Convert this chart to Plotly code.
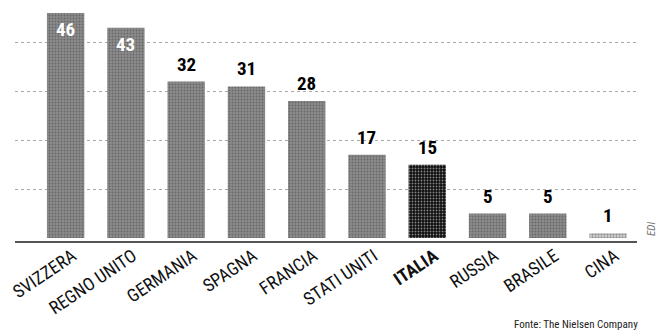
import plotly.graph_objects as go

countries = ["SVIZZERA", "REGNO UNITO", "GERMANIA", "SPAGNA", "FRANCIA",
             "STATI UNITI", "ITALIA", "RUSSIA", "BRASILE", "CINA"]
values = [46, 43, 32, 31, 28, 17, 15, 5, 5, 1]
tick_labels = ["SVIZZERA", "REGNO UNITO", "GERMANIA", "SPAGNA", "FRANCIA",
               "STATI UNITI", "<b>ITALIA</b>", "RUSSIA", "BRASILE", "CINA"]
grid_values = [10, 20, 30, 40]
inside_labels = ["SVIZZERA", "REGNO UNITO"]

bar_colors = ["#8b8b8b"] * len(values)
bar_colors[countries.index("ITALIA")] = "#0d0d0d"
bar_colors[countries.index("CINA")] = "#c9c9c9"
pattern_fg = ["#b8b8b8"] * len(values)
pattern_fg[countries.index("ITALIA")] = "#0d0d0d"
pattern_fg[countries.index("CINA")] = "#eeeeee"

FONT = "Roboto Condensed, Open Sans Condensed, sans-serif"

fig = go.Figure()
fig.add_trace(go.Bar(
    x=countries, y=values,
    marker=dict(color=bar_colors, line=dict(width=0),
                pattern=dict(shape=".", fgcolor=pattern_fg, size=3, solidity=0.3,
                             fillmode="overlay")),
    width=0.62,
    hoverinfo="x+y",
))

annotations = []
for c, v in zip(countries, values):
    inside = c in inside_labels
    annotations.append(dict(
        x=c, y=v, xref="x", yref="y", text=str(v), showarrow=False,
        yanchor="top" if inside else "bottom",
        yshift=-3 if inside else 4,
        font=dict(family=FONT, size=19, weight="bold",
                  color="white" if inside else "black"),
    ))

annotations += [
    dict(text="Fonte: The Nielsen Company", x=1.0, y=0.0, xref="paper", yref="paper",
         xanchor="right", yanchor="middle", xshift=3, yshift=-83, showarrow=False,
         font=dict(family=FONT, size=11, color="#222")),
    dict(text="<i>EDI</i>", x=1.0, y=0.0, xref="paper", yref="paper",
         xanchor="center", yanchor="middle", xshift=14, yshift=12, textangle=-90,
         showarrow=False, font=dict(family=FONT, size=11, color="#777")),
]

fig.update_layout(
    width=659, height=334,
    margin=dict(l=15, r=22, t=5, b=93, autoexpand=False),
    plot_bgcolor="white", paper_bgcolor="white",
    showlegend=False,
    font=dict(family=FONT, color="black"),
    xaxis=dict(
        range=[-0.84, 9.48], automargin=False,
        tickmode="array", tickvals=countries, ticktext=tick_labels,
        tickangle=-34, tickfont=dict(family=FONT, size=18, color="#111"),
        ticklabelshift=7, ticklabelstandoff=-4,
        showgrid=False, showline=True, linecolor="#555", linewidth=1.5,
        ticks="", fixedrange=True,
    ),
    yaxis=dict(
        range=[-0.61, 47.64], automargin=False,
        tickvals=grid_values, showticklabels=False,
        showgrid=True, gridcolor="#a8a8a8", gridwidth=1, griddash="dot",
        zeroline=False, showline=False, ticks="", fixedrange=True,
    ),
    annotations=annotations,
)

fig.write_html("out.html", config={"displayModeBar": False},
               post_script="document.body.style.margin='0';")
